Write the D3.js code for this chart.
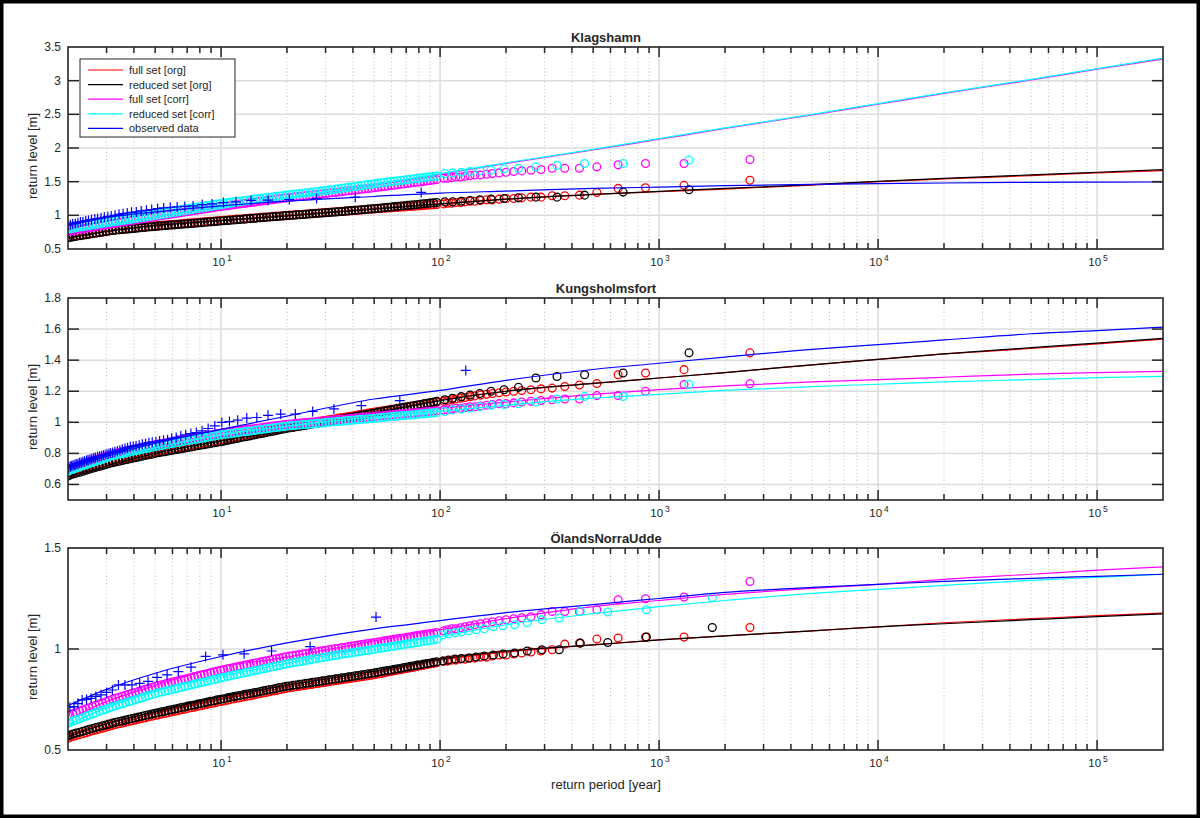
<!DOCTYPE html>
<html>
<head>
<meta charset="utf-8">
<script src="https://cdn.jsdelivr.net/npm/d3@7"></script>
<style>
body { margin: 0; background: #fff; }
svg { display: block; }
text { font-family: "Liberation Sans", Arial, sans-serif; fill: #262626; }
</style>
</head>
<body>
<svg></svg>
<script>
const size = { w: 1200, h: 818 };

// return periods of the simulated (ranked) samples, shared low end
const densePeriods = [96.6, 93.4, 90.2, 87.1, 84.2, 81.4, 78.6, 75.9, 73.4, 70.9,
	68.5, 66.2, 64.0, 61.8, 59.7, 57.7, 55.7, 53.8, 52.0, 50.3,
	48.6, 46.9, 45.3, 43.8, 42.3, 40.9, 39.5, 38.2, 36.9, 35.6,
	34.4, 33.3, 32.1, 31.0, 30.0, 29.0, 28.0, 27.0, 26.1, 25.3,
	24.4, 23.6, 22.8, 22.0, 21.3, 20.5, 19.8, 19.2, 18.5, 17.9,
	17.3, 16.7, 16.1, 15.6, 15.1, 14.5, 14.1, 13.6, 13.1, 12.7,
	12.2, 11.8, 11.4, 11.0, 10.7, 10.3, 9.95, 9.6, 9.3, 8.97,
	8.67, 8.38, 8.09, 7.82, 7.55, 7.30, 7.05, 6.81, 6.58, 6.36,
	6.14, 5.93, 5.73, 5.54, 5.35, 5.17, 5.0, 4.83, 4.66, 4.5,
	4.35, 4.2, 4.06, 3.92, 3.79, 3.66, 3.54, 3.42, 3.30, 3.19,
	3.08, 2.98, 2.88, 2.78, 2.68, 2.59, 2.5, 2.42, 2.34, 2.26,
	2.18, 2.11, 2.04, 2.0];
const fullPeriods = [2600, 1300, 867, 650, 520, 433, 371, 325, 289, 260, 236, 217, 200, 186, 173, 163, 153, 144,
	137, 130, 124, 118, 113, 108, 104].concat(densePeriods);
const reducedPeriods = [1370, 685, 457, 342, 274, 228, 196, 171, 152, 137, 125, 114, 105].concat(densePeriods);
const reducedPeriodsOland = [1750, 875, 583, 437, 350, 292, 250, 219, 194, 175, 159, 146, 135, 125, 117, 109,
	103].concat(densePeriods);

// return periods for the fitted curves
const fitPeriods = [2, 3, 5, 10, 20, 50, 100, 200, 500, 1000, 2000, 5000, 10000, 20000, 50000, 100000, 200000];

// observed data return periods
const klagObsPeriods = [82, 41, 27.3, 20.5, 16.4, 13.7, 11.7, 10.25, 9.1, 8.2, 7.45, 6.83, 6.3, 5.86, 5.47, 5.13,
	4.82, 4.56, 4.32, 4.1, 3.9, 3.73, 3.57, 3.42, 3.28, 3.15, 3.04, 2.93, 2.83, 2.73, 2.65, 2.56, 2.48, 2.41,
	2.34, 2.28, 2.22, 2.16, 2.1, 2.05, 2.0];
const kungObsPeriods = [131, 65.5, 43.7, 32.75, 26.2, 21.83, 18.71, 16.38, 14.56, 13.1, 11.91, 10.92, 10.08, 9.36,
	8.73, 8.19, 7.71, 7.28, 6.89, 6.55, 6.24, 5.95, 5.7, 5.46, 5.24, 5.04, 4.85, 4.68, 4.52, 4.37, 4.23, 4.09,
	3.97, 3.85, 3.74, 3.64, 3.54, 3.45, 3.36, 3.275, 3.195, 3.12, 3.05, 2.98, 2.91, 2.85, 2.79, 2.73, 2.67,
	2.62, 2.57, 2.52, 2.47, 2.43, 2.38, 2.34, 2.3, 2.26, 2.22, 2.18, 2.15, 2.11, 2.08, 2.05, 2.015];
const olandObsPeriods = [51, 25.5, 17, 12.75, 10.2, 8.5, 7.29, 6.38, 5.67, 5.1, 4.64, 4.25, 3.92, 3.64, 3.4, 3.19,
	3.0, 2.83, 2.68, 2.55, 2.43, 2.32, 2.22, 2.13, 2.04];

// ---- Klagshamn ----
const klagFullOrg = [1.52, 1.445, 1.41, 1.40, 1.34, 1.30, 1.29, 1.29, 1.27, 1.27, 1.26, 1.25, 1.25, 1.24, 1.23, 1.23,
	1.22, 1.21, 1.21, 1.20, 1.19, 1.19, 1.18, 1.18, 1.17,
	1.160, 1.157, 1.153, 1.150, 1.146, 1.143, 1.139, 1.136, 1.132, 1.129,
	1.125, 1.122, 1.118, 1.115, 1.111, 1.108, 1.104, 1.101, 1.097, 1.094,
	1.090, 1.087, 1.083, 1.080, 1.076, 1.073, 1.069, 1.066, 1.062, 1.059,
	1.055, 1.052, 1.048, 1.045, 1.041, 1.038, 1.034, 1.031, 1.027, 1.024,
	1.020, 1.017, 1.013, 1.010, 1.006, 1.003, 0.999, 0.995, 0.991, 0.988,
	0.984, 0.980, 0.976, 0.973, 0.969, 0.965, 0.961, 0.958, 0.954, 0.950,
	0.946, 0.943, 0.939, 0.935, 0.931, 0.928, 0.924, 0.920, 0.916, 0.912,
	0.908, 0.904, 0.900, 0.896, 0.892, 0.888, 0.884, 0.880, 0.876, 0.872,
	0.868, 0.864, 0.860, 0.856, 0.852, 0.848, 0.844, 0.839, 0.834, 0.829,
	0.824, 0.819, 0.814, 0.809, 0.804, 0.799, 0.794, 0.789, 0.784, 0.779,
	0.772, 0.764, 0.757, 0.749, 0.742, 0.734, 0.727, 0.719, 0.712, 0.704,
	0.697, 0.689, 0.682, 0.674];
const klagRedOrg = [1.38, 1.345, 1.30, 1.27, 1.27, 1.26, 1.25, 1.24, 1.23, 1.22, 1.21, 1.20, 1.20,
	1.190, 1.185, 1.181, 1.176, 1.171, 1.167, 1.162, 1.157, 1.152, 1.148,
	1.143, 1.138, 1.134, 1.129, 1.124, 1.120, 1.115, 1.110, 1.105, 1.100,
	1.096, 1.092, 1.087, 1.083, 1.079, 1.075, 1.071, 1.066, 1.062, 1.058,
	1.054, 1.049, 1.045, 1.041, 1.038, 1.034, 1.031, 1.027, 1.023, 1.020,
	1.016, 1.013, 1.009, 1.005, 1.002, 0.998, 0.995, 0.991, 0.987, 0.983,
	0.979, 0.975, 0.971, 0.967, 0.963, 0.959, 0.955, 0.951, 0.947, 0.943,
	0.939, 0.935, 0.931, 0.927, 0.923, 0.919, 0.915, 0.911, 0.907, 0.903,
	0.899, 0.895, 0.891, 0.887, 0.883, 0.879, 0.875, 0.871, 0.867, 0.863,
	0.859, 0.855, 0.851, 0.847, 0.843, 0.839, 0.835, 0.830, 0.826, 0.821,
	0.817, 0.812, 0.807, 0.803, 0.798, 0.794, 0.789, 0.784, 0.780, 0.775,
	0.767, 0.759, 0.751, 0.743, 0.735, 0.728, 0.720, 0.712, 0.704, 0.696,
	0.688, 0.680, 0.672, 0.665];
const klagFullCorr = [1.83, 1.77, 1.77, 1.75, 1.72, 1.70, 1.70, 1.70, 1.68, 1.67, 1.66, 1.65, 1.64, 1.63, 1.62,
	1.61, 1.60, 1.60, 1.59, 1.58, 1.57, 1.57, 1.56, 1.55, 1.55,
	1.530, 1.524, 1.517, 1.511, 1.505, 1.498, 1.492, 1.486, 1.480, 1.473,
	1.467, 1.461, 1.454, 1.448, 1.442, 1.435, 1.429, 1.423, 1.416, 1.410,
	1.404, 1.398, 1.393, 1.387, 1.381, 1.375, 1.369, 1.364, 1.358, 1.352,
	1.346, 1.340, 1.335, 1.330, 1.324, 1.319, 1.313, 1.308, 1.303, 1.297,
	1.292, 1.286, 1.281, 1.276, 1.270, 1.265, 1.260, 1.254, 1.247, 1.241,
	1.234, 1.228, 1.221, 1.215, 1.208, 1.202, 1.195, 1.189, 1.182, 1.176,
	1.169, 1.163, 1.156, 1.150, 1.143, 1.137, 1.130, 1.123, 1.115, 1.108,
	1.100, 1.093, 1.085, 1.078, 1.070, 1.063, 1.055, 1.048, 1.040, 1.033,
	1.025, 1.018, 1.010, 1.003, 0.995, 0.988, 0.980, 0.972, 0.964, 0.956,
	0.948, 0.940, 0.932, 0.923, 0.915, 0.907, 0.899, 0.891, 0.883, 0.875,
	0.866, 0.858, 0.849, 0.841, 0.832, 0.823, 0.815, 0.806, 0.798, 0.789,
	0.780, 0.772, 0.763, 0.755];
const klagRedCorr = [1.82, 1.77, 1.77, 1.74, 1.72, 1.70, 1.69, 1.67, 1.66, 1.65, 1.64, 1.63, 1.62,
	1.585, 1.579, 1.573, 1.567, 1.561, 1.555, 1.549, 1.543, 1.537, 1.531,
	1.525, 1.518, 1.512, 1.506, 1.500, 1.494, 1.488, 1.482, 1.476, 1.470,
	1.463, 1.456, 1.449, 1.442, 1.435, 1.428, 1.421, 1.415, 1.408, 1.401,
	1.394, 1.387, 1.380, 1.374, 1.369, 1.363, 1.357, 1.351, 1.346, 1.340,
	1.334, 1.329, 1.323, 1.317, 1.311, 1.306, 1.300, 1.294, 1.288, 1.281,
	1.275, 1.269, 1.263, 1.256, 1.250, 1.244, 1.238, 1.231, 1.225, 1.219,
	1.213, 1.206, 1.200, 1.194, 1.188, 1.181, 1.175, 1.168, 1.160, 1.153,
	1.145, 1.138, 1.130, 1.123, 1.115, 1.108, 1.100, 1.093, 1.085, 1.078,
	1.070, 1.063, 1.055, 1.048, 1.040, 1.033, 1.025, 1.017, 1.009, 1.001,
	0.993, 0.985, 0.977, 0.969, 0.960, 0.952, 0.944, 0.936, 0.928, 0.920,
	0.913, 0.905, 0.898, 0.890, 0.883, 0.875, 0.868, 0.860, 0.853, 0.845,
	0.838, 0.830, 0.823, 0.815];
const klagObs = [1.34, 1.27, 1.25, 1.235, 1.225, 1.222, 1.20, 1.19, 1.17, 1.16, 1.14, 1.133, 1.125, 1.12, 1.11,
	1.10, 1.085, 1.075, 1.065, 1.05, 1.045, 1.035, 1.025, 1.015, 1.0, 0.99, 0.98, 0.97, 0.96, 0.95, 0.945,
	0.935, 0.925, 0.915, 0.905, 0.90, 0.89, 0.88, 0.87, 0.86, 0.85];
const klagFitFullOrg = [0.67, 0.77, 0.86, 0.93, 1.0, 1.1, 1.17, 1.24, 1.31, 1.35, 1.39, 1.45, 1.50, 1.54, 1.59, 1.63, 1.665];
const klagFitRedOrg = [0.66, 0.76, 0.85, 0.92, 0.99, 1.09, 1.17, 1.24, 1.31, 1.355, 1.40, 1.455, 1.505, 1.55, 1.60, 1.64, 1.68];
const klagFitFullCorr = [0.73, 0.82, 0.93, 1.09, 1.25, 1.45, 1.61, 1.77, 1.97, 2.13, 2.29, 2.49, 2.65, 2.81, 3.01, 3.17, 3.32];
const klagFitRedCorr = [0.74, 0.83, 0.94, 1.10, 1.26, 1.46, 1.62, 1.78, 1.98, 2.14, 2.30, 2.50, 2.66, 2.82, 3.02, 3.18, 3.335];
const klagFitObs = [0.88, 0.97, 1.05, 1.14, 1.21, 1.28, 1.33, 1.36, 1.40, 1.42, 1.44, 1.46, 1.47, 1.48, 1.49, 1.493, 1.495];

// ---- Kungsholmsfort ----
const kungFullOrg = [1.447, 1.339, 1.317, 1.306, 1.25, 1.24, 1.23, 1.22, 1.215, 1.21, 1.205, 1.20, 1.195, 1.19,
	1.185, 1.18, 1.175, 1.17, 1.165, 1.16, 1.155, 1.15, 1.145, 1.14, 1.135,
	1.130, 1.127, 1.123, 1.120, 1.117, 1.113, 1.110, 1.106, 1.103, 1.100,
	1.096, 1.093, 1.090, 1.086, 1.083, 1.079, 1.076, 1.073, 1.069, 1.066,
	1.062, 1.059, 1.055, 1.052, 1.048, 1.044, 1.041, 1.037, 1.034, 1.030,
	1.027, 1.023, 1.020, 1.016, 1.013, 1.009, 1.006, 1.002, 0.999, 0.995,
	0.991, 0.988, 0.984, 0.981, 0.977, 0.974, 0.970, 0.966, 0.962, 0.957,
	0.953, 0.949, 0.945, 0.940, 0.936, 0.932, 0.928, 0.923, 0.919, 0.915,
	0.911, 0.906, 0.902, 0.898, 0.894, 0.889, 0.885, 0.881, 0.878, 0.874,
	0.870, 0.866, 0.863, 0.859, 0.855, 0.851, 0.848, 0.844, 0.840, 0.836,
	0.833, 0.829, 0.825, 0.821, 0.818, 0.814, 0.810, 0.805, 0.801, 0.796,
	0.792, 0.787, 0.782, 0.778, 0.773, 0.769, 0.764, 0.759, 0.755, 0.750,
	0.744, 0.738, 0.732, 0.726, 0.720, 0.714, 0.708, 0.701, 0.695, 0.689,
	0.683, 0.677, 0.671, 0.665];
const kungRedOrg = [1.447, 1.317, 1.306, 1.295, 1.285, 1.225, 1.21, 1.20, 1.185, 1.175, 1.165, 1.155, 1.145,
	1.135, 1.131, 1.127, 1.123, 1.119, 1.115, 1.111, 1.107, 1.103, 1.099,
	1.096, 1.092, 1.088, 1.084, 1.080, 1.076, 1.072, 1.068, 1.064, 1.060,
	1.056, 1.052, 1.048, 1.045, 1.041, 1.037, 1.033, 1.029, 1.025, 1.021,
	1.018, 1.014, 1.010, 1.006, 1.003, 0.999, 0.996, 0.992, 0.989, 0.985,
	0.981, 0.978, 0.974, 0.971, 0.967, 0.964, 0.960, 0.956, 0.952, 0.947,
	0.943, 0.939, 0.935, 0.930, 0.926, 0.922, 0.918, 0.913, 0.909, 0.905,
	0.901, 0.896, 0.892, 0.888, 0.884, 0.879, 0.875, 0.871, 0.868, 0.864,
	0.860, 0.856, 0.853, 0.849, 0.845, 0.841, 0.838, 0.834, 0.830, 0.826,
	0.823, 0.819, 0.815, 0.811, 0.808, 0.804, 0.800, 0.795, 0.791, 0.786,
	0.782, 0.777, 0.772, 0.768, 0.763, 0.759, 0.754, 0.749, 0.745, 0.740,
	0.734, 0.728, 0.722, 0.716, 0.710, 0.704, 0.698, 0.691, 0.685, 0.679,
	0.673, 0.667, 0.661, 0.655];
const kungFullCorr = [1.248, 1.243, 1.20, 1.172, 1.172, 1.15, 1.15, 1.145, 1.14, 1.135, 1.13, 1.125, 1.12, 1.12,
	1.115, 1.11, 1.105, 1.10, 1.10, 1.095, 1.09, 1.09, 1.085, 1.08, 1.08,
	1.075, 1.073, 1.071, 1.069, 1.067, 1.065, 1.063, 1.061, 1.059, 1.057,
	1.056, 1.054, 1.052, 1.050, 1.048, 1.046, 1.044, 1.042, 1.040, 1.038,
	1.036, 1.034, 1.032, 1.031, 1.029, 1.027, 1.025, 1.023, 1.021, 1.019,
	1.018, 1.016, 1.014, 1.012, 1.010, 1.008, 1.006, 1.004, 1.002, 1.000,
	0.998, 0.997, 0.995, 0.993, 0.991, 0.989, 0.987, 0.984, 0.981, 0.979,
	0.976, 0.973, 0.970, 0.967, 0.965, 0.962, 0.959, 0.956, 0.953, 0.951,
	0.948, 0.945, 0.942, 0.939, 0.937, 0.934, 0.931, 0.927, 0.923, 0.920,
	0.916, 0.912, 0.908, 0.905, 0.901, 0.897, 0.893, 0.890, 0.886, 0.882,
	0.878, 0.875, 0.871, 0.867, 0.863, 0.860, 0.856, 0.851, 0.847, 0.842,
	0.838, 0.833, 0.829, 0.824, 0.820, 0.815, 0.810, 0.806, 0.801, 0.797,
	0.790, 0.782, 0.775, 0.768, 0.761, 0.753, 0.746, 0.739, 0.732, 0.724,
	0.717, 0.710, 0.703, 0.695];
const kungRedCorr = [1.243, 1.166, 1.166, 1.15, 1.13, 1.12, 1.115, 1.11, 1.10, 1.09, 1.085, 1.08, 1.07,
	1.063, 1.061, 1.059, 1.057, 1.055, 1.053, 1.051, 1.049, 1.047, 1.045,
	1.044, 1.042, 1.040, 1.038, 1.036, 1.034, 1.032, 1.030, 1.028, 1.026,
	1.024, 1.022, 1.020, 1.019, 1.017, 1.015, 1.013, 1.011, 1.009, 1.007,
	1.006, 1.004, 1.002, 1.000, 0.998, 0.996, 0.994, 0.992, 0.990, 0.988,
	0.986, 0.985, 0.983, 0.981, 0.979, 0.977, 0.975, 0.972, 0.969, 0.967,
	0.964, 0.961, 0.958, 0.955, 0.953, 0.950, 0.947, 0.944, 0.941, 0.939,
	0.936, 0.933, 0.930, 0.927, 0.925, 0.922, 0.919, 0.915, 0.911, 0.908,
	0.904, 0.900, 0.896, 0.893, 0.889, 0.885, 0.881, 0.878, 0.874, 0.870,
	0.866, 0.863, 0.859, 0.855, 0.851, 0.848, 0.844, 0.839, 0.835, 0.830,
	0.826, 0.821, 0.817, 0.812, 0.808, 0.803, 0.798, 0.794, 0.789, 0.785,
	0.778, 0.770, 0.763, 0.756, 0.749, 0.741, 0.734, 0.727, 0.720, 0.712,
	0.705, 0.698, 0.691, 0.683];
const kungObs = [1.334, 1.14, 1.107, 1.086, 1.07, 1.053, 1.053, 1.045, 1.031, 1.027, 1.014, 1.005, 0.999, 0.977,
	0.96, 0.945, 0.934, 0.928, 0.92, 0.912, 0.903, 0.897, 0.888, 0.884, 0.88, 0.875, 0.872, 0.869, 0.864, 0.858,
	0.853, 0.848, 0.845, 0.842, 0.836, 0.832, 0.826, 0.82, 0.815, 0.81, 0.806, 0.802, 0.798, 0.794, 0.79, 0.785,
	0.781, 0.778, 0.774, 0.77, 0.766, 0.762, 0.758, 0.754, 0.75, 0.746, 0.742, 0.739, 0.735, 0.731, 0.727,
	0.724, 0.72, 0.716, 0.712];
const kungFitFullOrg = [0.655, 0.73, 0.81, 0.89, 0.96, 1.07, 1.145, 1.20, 1.25, 1.285, 1.32, 1.37, 1.405, 1.44, 1.475, 1.505, 1.535];
const kungFitRedOrg = [0.65, 0.72, 0.80, 0.88, 0.95, 1.06, 1.14, 1.20, 1.25, 1.285, 1.32, 1.37, 1.405, 1.44, 1.48, 1.51, 1.54];
const kungFitFullCorr = [0.67, 0.76, 0.84, 0.93, 0.99, 1.05, 1.09, 1.13, 1.18, 1.21, 1.235, 1.26, 1.275, 1.29, 1.31, 1.32, 1.328];
const kungFitRedCorr = [0.67, 0.755, 0.835, 0.92, 0.975, 1.035, 1.07, 1.11, 1.155, 1.18, 1.205, 1.23, 1.245, 1.26, 1.275, 1.287, 1.295];
const kungFitObs = [0.70, 0.78, 0.865, 0.955, 1.04, 1.15, 1.205, 1.27, 1.34, 1.38, 1.42, 1.47, 1.50, 1.53, 1.57, 1.59, 1.612];

// ---- ÖlandsNorraUdde ----
const olandFullOrg = [1.106, 1.059, 1.059, 1.054, 1.049, 1.03, 1.024, 0.996, 0.99, 0.985, 0.98, 0.975, 0.97, 0.97,
	0.965, 0.96, 0.96, 0.955, 0.955, 0.95, 0.95, 0.945, 0.945, 0.94, 0.94,
	0.932, 0.929, 0.926, 0.923, 0.920, 0.917, 0.913, 0.910, 0.907, 0.904,
	0.901, 0.898, 0.895, 0.892, 0.889, 0.886, 0.882, 0.879, 0.876, 0.873,
	0.870, 0.868, 0.865, 0.863, 0.860, 0.858, 0.855, 0.853, 0.850, 0.848,
	0.845, 0.843, 0.840, 0.838, 0.835, 0.833, 0.830, 0.828, 0.825, 0.823,
	0.820, 0.818, 0.815, 0.813, 0.810, 0.808, 0.805, 0.802, 0.798, 0.795,
	0.792, 0.789, 0.785, 0.782, 0.779, 0.776, 0.772, 0.769, 0.766, 0.763,
	0.759, 0.756, 0.753, 0.750, 0.746, 0.743, 0.740, 0.737, 0.733, 0.730,
	0.726, 0.723, 0.719, 0.716, 0.712, 0.709, 0.706, 0.702, 0.699, 0.695,
	0.692, 0.688, 0.685, 0.681, 0.678, 0.674, 0.671, 0.667, 0.663, 0.660,
	0.656, 0.652, 0.648, 0.645, 0.641, 0.637, 0.633, 0.630, 0.626, 0.622,
	0.617, 0.613, 0.608, 0.604, 0.599, 0.595, 0.590, 0.585, 0.581, 0.576,
	0.572, 0.567, 0.563, 0.558];
const olandRedOrg = [1.106, 1.059, 1.032, 1.029, 0.996, 0.996, 0.99, 0.98, 0.975, 0.97, 0.965, 0.96, 0.955, 0.953,
	0.95, 0.945, 0.94,
	0.937, 0.934, 0.931, 0.928, 0.925, 0.922, 0.920, 0.917, 0.914, 0.911,
	0.908, 0.905, 0.902, 0.899, 0.896, 0.893, 0.891, 0.888, 0.885, 0.882,
	0.879, 0.877, 0.874, 0.872, 0.869, 0.867, 0.864, 0.862, 0.859, 0.857,
	0.854, 0.852, 0.849, 0.847, 0.844, 0.842, 0.839, 0.837, 0.835, 0.832,
	0.830, 0.827, 0.825, 0.822, 0.820, 0.817, 0.815, 0.812, 0.809, 0.805,
	0.802, 0.799, 0.796, 0.793, 0.789, 0.786, 0.783, 0.780, 0.777, 0.774,
	0.770, 0.767, 0.764, 0.761, 0.758, 0.754, 0.751, 0.748, 0.744, 0.741,
	0.737, 0.734, 0.730, 0.727, 0.723, 0.720, 0.717, 0.713, 0.710, 0.706,
	0.703, 0.699, 0.696, 0.692, 0.689, 0.685, 0.682, 0.678, 0.674, 0.671,
	0.667, 0.663, 0.659, 0.656, 0.652, 0.648, 0.644, 0.641, 0.637, 0.633,
	0.629, 0.624, 0.620, 0.615, 0.611, 0.606, 0.602, 0.597, 0.593, 0.588,
	0.584, 0.579, 0.575, 0.570];
const olandFullCorr = [1.334, 1.257, 1.249, 1.244, 1.194, 1.186, 1.186, 1.186, 1.17, 1.16, 1.155, 1.15, 1.145,
	1.14, 1.135, 1.13, 1.125, 1.12, 1.115, 1.11, 1.105, 1.10, 1.10, 1.095, 1.09,
	1.082, 1.079, 1.077, 1.074, 1.071, 1.069, 1.066, 1.064, 1.061, 1.058,
	1.056, 1.053, 1.050, 1.048, 1.045, 1.043, 1.040, 1.037, 1.035, 1.032,
	1.029, 1.027, 1.024, 1.022, 1.019, 1.017, 1.014, 1.012, 1.009, 1.007,
	1.004, 1.002, 0.999, 0.996, 0.994, 0.991, 0.988, 0.986, 0.983, 0.980,
	0.978, 0.975, 0.972, 0.970, 0.967, 0.965, 0.962, 0.959, 0.955, 0.952,
	0.949, 0.945, 0.942, 0.939, 0.935, 0.932, 0.929, 0.925, 0.922, 0.919,
	0.915, 0.912, 0.908, 0.905, 0.902, 0.898, 0.895, 0.891, 0.887, 0.883,
	0.879, 0.875, 0.871, 0.867, 0.863, 0.859, 0.855, 0.851, 0.847, 0.843,
	0.839, 0.835, 0.831, 0.827, 0.823, 0.819, 0.815, 0.810, 0.805, 0.800,
	0.795, 0.790, 0.785, 0.781, 0.776, 0.771, 0.766, 0.761, 0.756, 0.751,
	0.745, 0.739, 0.733, 0.727, 0.721, 0.715, 0.709, 0.704, 0.698, 0.692,
	0.686, 0.680, 0.674, 0.668];
const olandRedCorr = [1.255, 1.194, 1.183, 1.186, 1.153, 1.145, 1.13, 1.12, 1.115, 1.11, 1.10, 1.095, 1.09, 1.085,
	1.08, 1.075, 1.07,
	1.048, 1.045, 1.043, 1.040, 1.038, 1.035, 1.033, 1.030, 1.027, 1.025,
	1.022, 1.020, 1.017, 1.014, 1.012, 1.009, 1.007, 1.004, 1.002, 0.999,
	0.996, 0.994, 0.991, 0.989, 0.986, 0.984, 0.981, 0.979, 0.976, 0.974,
	0.971, 0.968, 0.966, 0.963, 0.960, 0.957, 0.955, 0.952, 0.949, 0.946,
	0.943, 0.940, 0.937, 0.935, 0.932, 0.929, 0.926, 0.923, 0.919, 0.916,
	0.912, 0.909, 0.905, 0.902, 0.898, 0.895, 0.892, 0.888, 0.885, 0.881,
	0.878, 0.874, 0.871, 0.867, 0.864, 0.860, 0.857, 0.853, 0.849, 0.845,
	0.841, 0.837, 0.834, 0.830, 0.826, 0.822, 0.818, 0.814, 0.810, 0.806,
	0.802, 0.798, 0.795, 0.791, 0.787, 0.783, 0.779, 0.774, 0.769, 0.764,
	0.759, 0.754, 0.749, 0.744, 0.739, 0.734, 0.729, 0.724, 0.719, 0.714,
	0.708, 0.702, 0.697, 0.691, 0.685, 0.679, 0.673, 0.667, 0.661, 0.655,
	0.649, 0.644, 0.638, 0.632];
const olandObs = [1.158, 1.012, 0.99, 0.976, 0.971, 0.963, 0.91, 0.888, 0.872, 0.86, 0.84, 0.83, 0.822, 0.822,
	0.822, 0.797, 0.785, 0.773, 0.765, 0.756, 0.75, 0.748, 0.73, 0.715, 0.712];
const olandFitFullOrg = [0.55, 0.615, 0.68, 0.75, 0.81, 0.88, 0.945, 0.985, 1.02, 1.045, 1.065, 1.09, 1.11, 1.13, 1.15, 1.165, 1.178];
const olandFitRedOrg = [0.566, 0.63, 0.69, 0.764, 0.82, 0.89, 0.95, 0.99, 1.02, 1.045, 1.065, 1.09, 1.11, 1.125, 1.145, 1.16, 1.174];
const olandFitFullCorr = [0.65, 0.74, 0.82, 0.91, 0.96, 1.04, 1.095, 1.15, 1.21, 1.24, 1.27, 1.30, 1.32, 1.345, 1.37, 1.39, 1.407];
const olandFitRedCorr = [0.625, 0.71, 0.79, 0.865, 0.93, 1.01, 1.062, 1.12, 1.175, 1.21, 1.24, 1.275, 1.295, 1.315, 1.34, 1.355, 1.37];
const olandFitObs = [0.72, 0.80, 0.88, 0.963, 1.03, 1.10, 1.14, 1.18, 1.22, 1.25, 1.28, 1.305, 1.32, 1.335, 1.35, 1.36, 1.37];

// tick values for the y axes
const klagTicks = [0.5, 1, 1.5, 2, 2.5, 3, 3.5];
const kungTicks = [0.6, 0.8, 1, 1.2, 1.4, 1.6, 1.8];
const olandTicks = [0.5, 1, 1.5];

const legendLabels = ["full set [org]", "reduced set [org]", "full set [corr]", "reduced set [corr]", "observed data"];
const seriesColors = ["#ff0000", "#000000", "#ff00ff", "#00ffff", "#0000ff"];

// layout
const plotLeft = 68,
	plotRight = 1163,
	plotH = 202,
	midX = 606,
	axisColor = "#262626";

const svg = d3.select("svg").attr("width", size.w).attr("height", size.h);
svg.append("rect").attr("width", size.w).attr("height", size.h).attr("fill", "#fff");

const x = d3.scaleLog().domain([2, 2e5]).range([plotLeft, plotRight]);

const isDecade = (t) => Math.abs(Math.log10(t) - Math.round(Math.log10(t))) < 1e-9;
const allXTicks = x.ticks();
const majorX = allXTicks.filter(isDecade);
const minorX = allXTicks.filter((t) => !isDecade(t));

const panels = [
	{
		title: "Klagshamn", top: 47, yDomain: [0.5, 3.5], yTicks: klagTicks,
		circles: [[fullPeriods, klagFullOrg], [reducedPeriods, klagRedOrg], [fullPeriods, klagFullCorr], [reducedPeriods, klagRedCorr]],
		fits: [klagFitFullOrg, klagFitRedOrg, klagFitFullCorr, klagFitRedCorr, klagFitObs],
		obs: [klagObsPeriods, klagObs],
		legend: true,
	},
	{
		title: "Kungsholmsfort", top: 298, yDomain: [0.5, 1.8], yTicks: kungTicks,
		circles: [[fullPeriods, kungFullOrg], [reducedPeriods, kungRedOrg], [fullPeriods, kungFullCorr], [reducedPeriods, kungRedCorr]],
		fits: [kungFitFullOrg, kungFitRedOrg, kungFitFullCorr, kungFitRedCorr, kungFitObs],
		obs: [kungObsPeriods, kungObs],
	},
	{
		title: "ÖlandsNorraUdde", top: 548, yDomain: [0.5, 1.5], yTicks: olandTicks,
		circles: [[fullPeriods, olandFullOrg], [reducedPeriodsOland, olandRedOrg], [fullPeriods, olandFullCorr], [reducedPeriodsOland, olandRedCorr]],
		fits: [olandFitFullOrg, olandFitRedOrg, olandFitFullCorr, olandFitRedCorr, olandFitObs],
		obs: [olandObsPeriods, olandObs],
		xlabel: true,
	},
];

panels.forEach(drawPanel);

// figure frame
svg.append("rect")
	.attr("width", size.w).attr("height", size.h)
	.attr("fill", "none").attr("stroke", "#000").attr("stroke-width", 7);

function drawPanel(p, idx) {
	const bottom = p.top + plotH;
	const y = d3.scaleLinear().domain(p.yDomain).range([bottom, p.top]);
	const g = svg.append("g");

	const clipId = "clip" + idx;
	svg.append("clipPath").attr("id", clipId)
		.append("rect").attr("x", plotLeft).attr("y", p.top)
		.attr("width", plotRight - plotLeft).attr("height", plotH);

	// grid: dotted minor, light solid major
	g.selectAll("line.minor").data(minorX.filter((t) => t > 2 && t < 2e5)).join("line")
		.attr("x1", (d) => x(d)).attr("x2", (d) => x(d))
		.attr("y1", p.top).attr("y2", bottom)
		.attr("stroke", "#c4c4c4").attr("stroke-dasharray", "1,2.5");
	g.selectAll("line.majorx").data(majorX).join("line")
		.attr("x1", (d) => x(d)).attr("x2", (d) => x(d))
		.attr("y1", p.top).attr("y2", bottom)
		.attr("stroke", "#dcdcdc").attr("stroke-width", 1.5);
	g.append("g").selectAll("line").data(p.yTicks).join("line")
		.attr("x1", plotLeft).attr("x2", plotRight)
		.attr("y1", (d) => y(d)).attr("y2", (d) => y(d))
		.attr("stroke", "#dcdcdc").attr("stroke-width", 1.5);

	const dataG = g.append("g").attr("clip-path", `url(#${clipId})`);
	const fitLine = d3.line()
		.x((d) => x(d[0]))
		.y((d) => y(d[1]))
		.curve(d3.curveMonotoneX);

	// each set: sample circles then fitted line
	p.circles.forEach((c, i) => {
		const pts = d3.zip(c[0], c[1]);
		dataG.append("g").selectAll("circle").data(pts).join("circle")
			.attr("cx", (d) => x(d[0])).attr("cy", (d) => y(d[1]))
			.attr("r", 3.9)
			.attr("fill", "none").attr("stroke", seriesColors[i]).attr("stroke-width", 1.3);
		dataG.append("path").datum(d3.zip(fitPeriods, p.fits[i]))
			.attr("d", fitLine)
			.attr("fill", "none").attr("stroke", seriesColors[i]).attr("stroke-width", 1.2);
	});

	// observed data
	dataG.append("g").selectAll("path").data(d3.zip(p.obs[0], p.obs[1])).join("path")
		.attr("d", "M-5,0H5M0,-5V5")
		.attr("transform", (d) => `translate(${x(d[0])},${y(d[1])})`)
		.attr("stroke", seriesColors[4]).attr("stroke-width", 1.2);
	dataG.append("path").datum(d3.zip(fitPeriods, p.fits[4]))
		.attr("d", fitLine)
		.attr("fill", "none").attr("stroke", seriesColors[4]).attr("stroke-width", 1.2);

	// axes box and ticks
	g.append("rect")
		.attr("x", plotLeft).attr("y", p.top)
		.attr("width", plotRight - plotLeft).attr("height", plotH)
		.attr("fill", "none").attr("stroke", axisColor).attr("stroke-width", 1.6);

	const xt = allXTicks.filter((t) => t > 2 && t < 2e5);
	const tickLen = (t) => (isDecade(t) ? 10 : 6);
	g.append("g").selectAll("line").data(xt).join("line")
		.attr("x1", (d) => x(d)).attr("x2", (d) => x(d))
		.attr("y1", bottom).attr("y2", (d) => bottom - tickLen(d))
		.attr("stroke", axisColor).attr("stroke-width", 1.5);
	g.append("g").selectAll("line").data(xt).join("line")
		.attr("x1", (d) => x(d)).attr("x2", (d) => x(d))
		.attr("y1", p.top).attr("y2", (d) => p.top + tickLen(d))
		.attr("stroke", axisColor).attr("stroke-width", 1.5);

	const yt = p.yTicks.filter((t) => t > p.yDomain[0] && t < p.yDomain[1]);
	g.append("g").selectAll("line").data(yt).join("line")
		.attr("x1", plotLeft).attr("x2", plotLeft + 11)
		.attr("y1", (d) => y(d)).attr("y2", (d) => y(d))
		.attr("stroke", axisColor).attr("stroke-width", 1.5);
	g.append("g").selectAll("line").data(yt).join("line")
		.attr("x1", plotRight).attr("x2", plotRight - 11)
		.attr("y1", (d) => y(d)).attr("y2", (d) => y(d))
		.attr("stroke", axisColor).attr("stroke-width", 1.5);

	// tick labels
	g.append("g").selectAll("text").data(p.yTicks).join("text")
		.attr("x", 61).attr("y", (d) => y(d) + 4)
		.attr("text-anchor", "end").attr("font-size", 12)
		.text((d) => String(d));

	const xl = g.append("g").selectAll("text").data(majorX).join("text")
		.attr("x", (d) => x(d) + 1).attr("y", bottom + 17)
		.attr("text-anchor", "middle").attr("font-size", 11.5);
	xl.append("tspan").text("10");
	xl.append("tspan").attr("dx", 2).attr("dy", -5).attr("font-size", 8.5)
		.text((d) => Math.round(Math.log10(d)));

	// title and y label
	g.append("text")
		.attr("x", midX).attr("y", p.top - 5)
		.attr("text-anchor", "middle").attr("font-size", 13).attr("font-weight", "bold")
		.attr("fill", "#000")
		.text(p.title);
	g.append("text")
		.attr("transform", `translate(37,${p.top + plotH / 2 + 8}) rotate(-90)`)
		.attr("text-anchor", "middle").attr("font-size", 13)
		.text("return level [m]");

	if (p.xlabel) {
		g.append("text")
			.attr("x", midX).attr("y", bottom + 39)
			.attr("text-anchor", "middle").attr("font-size", 13)
			.text("return period [year]");
	}

	if (p.legend) drawLegend(g);
}

function drawLegend(g) {
	const lg = g.append("g");
	lg.append("rect")
		.attr("x", 80).attr("y", 59).attr("width", 155).attr("height", 78)
		.attr("fill", "#fff").attr("stroke", axisColor).attr("stroke-width", 1);
	const rows = lg.selectAll("g.row").data(legendLabels).join("g")
		.attr("transform", (d, i) => `translate(0,${70 + i * 14.6})`);
	rows.append("line")
		.attr("x1", 88).attr("x2", 123)
		.attr("stroke", (d, i) => seriesColors[i]).attr("stroke-width", 1.2);
	rows.append("text")
		.attr("x", 129).attr("y", 4)
		.attr("font-size", 11)
		.attr("fill", "#000")
		.text((d) => d);
}
</script>
</body>
</html>
